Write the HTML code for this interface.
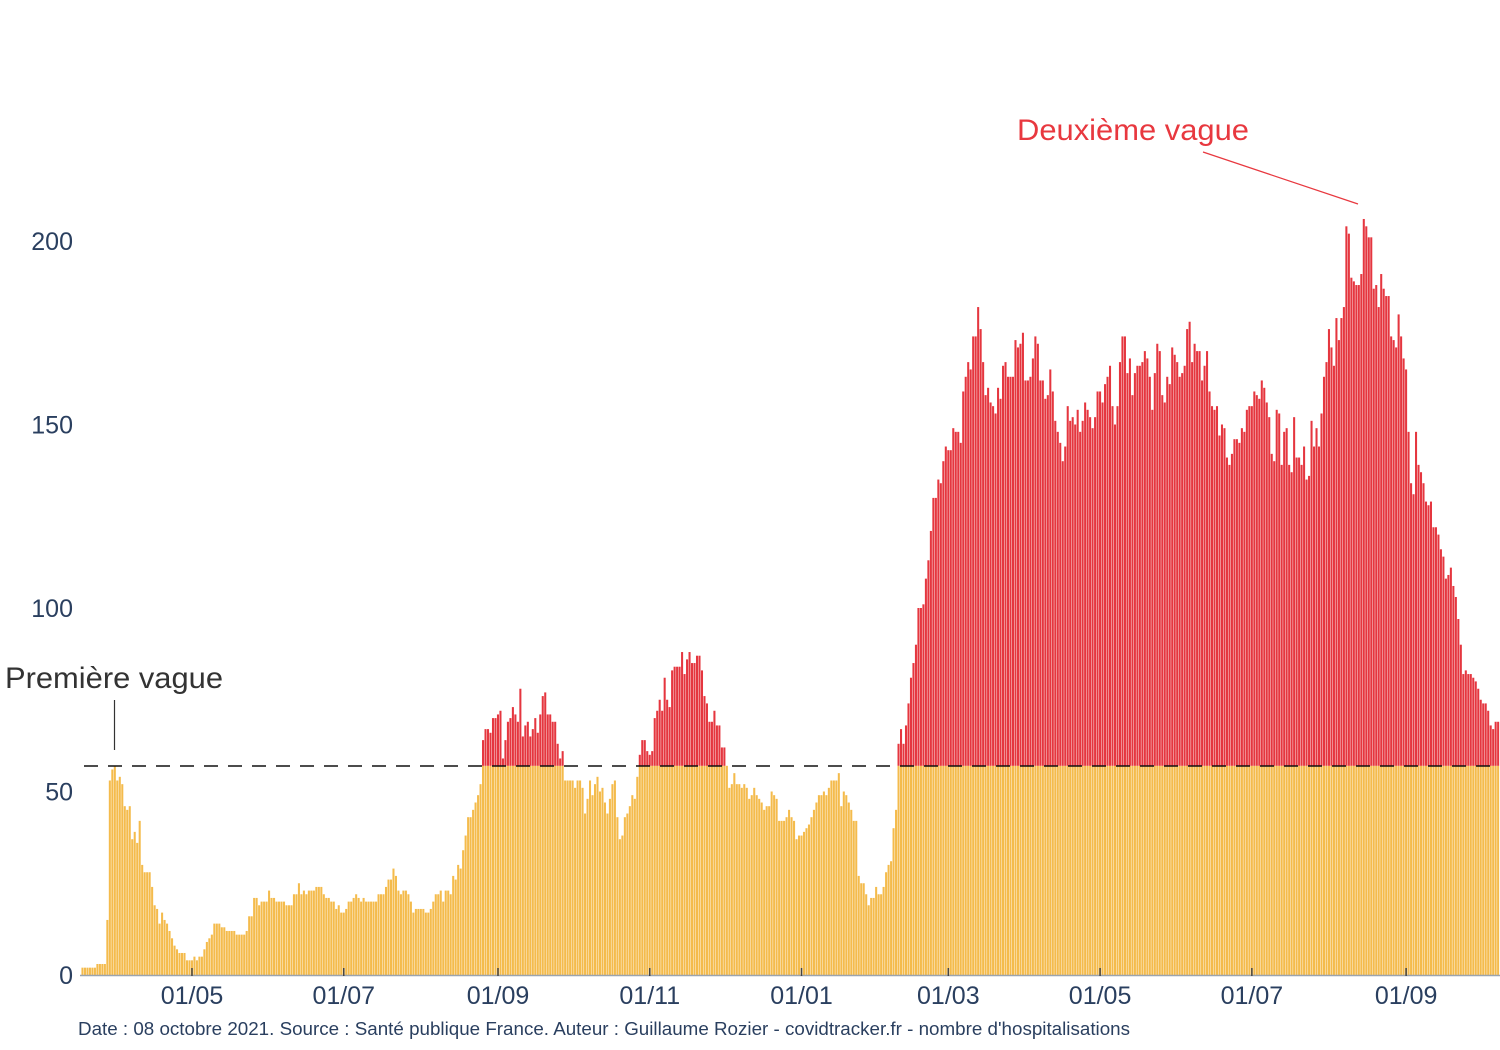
<!DOCTYPE html>
<html><head><meta charset="utf-8"><style>
html,body{margin:0;padding:0;background:#fff;}
svg{display:block;font-family:"Liberation Sans",sans-serif;}
</style></head><body>
<svg id="chart" width="1500" height="1050" viewBox="0 0 1500 1050">
<g id="bars"></g>
<line x1="80" y1="975.5" x2="1500" y2="975.5" stroke="#9aa4b0" stroke-width="1.5"/>
<line x1="84" y1="766" x2="1500" y2="766" stroke="#111" stroke-width="1.6" stroke-dasharray="14,10"/>
<g id="yaxis"></g>
<g id="xaxis"></g>
<text x="5" y="688" font-size="30" fill="#333" textLength="218" lengthAdjust="spacingAndGlyphs">Première vague</text>
<line x1="114.5" y1="700" x2="114.5" y2="750" stroke="#333" stroke-width="1.2"/>
<text x="1017" y="140" font-size="30" fill="#e8383f" textLength="232" lengthAdjust="spacingAndGlyphs">Deuxième vague</text>
<line x1="1203" y1="152" x2="1358" y2="204" stroke="#e8383f" stroke-width="1.2"/>
<text x="78" y="1035" font-size="18" fill="#2a3f5f" textLength="1052" lengthAdjust="spacingAndGlyphs">Date : 08 octobre 2021. Source : Santé publique France. Auteur : Guillaume Rozier - covidtracker.fr - nombre d'hospitalisations</text>
</svg>
<script>
const values = [2,2,2,2,2,2,3,3,3,3,
15,53,56,57,53,54,52,46,45,46,37,39,36,42,30,28,28,28,24,19,18,14,17,15,14,12,10,8,7,6,6,6,4,4,4,5,4,5,5,7,9,10,11,14,14,14,13,13,12,12,12,12,11,11,11,11,12,16,16,21,21,19,20,20,20,23,21,21,20,20,20,20,19,19,19,22,22,25,22,23,22,23,23,23,24,
24,24,22,21,21,20,20,18,19,17,17,18,20,20,21,22,21,20,21,20,20,20,20,20,22,22,22,24,26,26,29,27,23,22,23,23,22,20,17,18,18,18,18,17,17,18,20,22,22,23,20,23,23,22,27,26,30,29,34,38,43,43,45,47,49,52,
64,67,67,66,70,70,71,72,59,64,69,70,73,71,69,78,65,68,69,65,67,70,66,71,76,77,
71,71,69,69,63,59,61,53,53,53,53,51,53,53,51,44,48,53,49,52,54,50,51,47,44,48,52,53,43,37,38,43,44,46,49,48,54,60,64,64,61,60,61,70,72,75,72,81,75,73,83,84,84,84,88,82,86,88,85,85,87,87,83,76,74,69,69,72,68,68,62,62,57,51,52,55,52,52,51,52,51,48,49,51,49,48,47,45,46,
46,50,49,48,42,42,42,43,45,43,42,37,38,38,39,40,41,43,45,47,49,49,50,49,51,53,53,53,55,46,50,49,47,45,42,42,27,25,25,22,19,21,21,24,22,22,24,28,30,31,40,45,
63,67,63,68,74,81,85,90,100,100,101,108,113,121,130,130,135,134,140,144,143,143,149,148,148,145,159,163,167,165,174,174,182,176,167,158,160,156,155,153,160,157,166,167,163,163,163,173,171,172,175,162,162,163,168,174,172,162,162,157,158,165,159,151,148,145,140,144,155,151,152,150,154,148,151,156,154,152,149,152,159,
159,156,161,163,166,155,150,155,167,174,174,164,168,158,164,166,166,167,170,168,163,154,164,172,170,158,156,163,161,171,169,167,163,164,166,176,178,167,172,170,170,162,166,170,159,155,154,155,147,150,149,141,139,142,146,146,145,149,148,154,155,155,159,158,157,162,160,156,152,142,140,154,153,139,148,149,139,137,
152,141,141,139,144,135,136,151,144,149,144,153,163,167,176,171,166,179,173,179,182,204,202,190,189,188,188,191,206,204,201,201,187,188,182,191,187,185,185,174,173,171,180,174,168,165,148,134,131,148,139,137,134,129,128,129,122,122,120,116,114,108,109,111,106,103,97,90,82,83,82,82,81,80,78,75,74,74,72,68,67,69,
69];
const threshold = 57;
const yTicks = [0,50,100,150,200];
const xTickLabels = ["01/05","01/07","01/09","01/11","01/01","01/03","01/05","01/07","01/09"];
const xTickDays = [44,105,167,228,289,348,409,470,532];

const NS="http://www.w3.org/2000/svg";
const y0=975, pxPerUnit=3.67, x0=82.5, step=2.488;
function yScale(v){return y0 - v*pxPerUnit;}
function xScale(i){return x0 + step*i;}
const bars=document.getElementById('bars');
values.forEach((v,i)=>{
  const xl=xScale(i)-1.05, w=2.05;
  const low=Math.min(v,threshold);
  const r=document.createElementNS(NS,'rect');
  
  
  r.setAttribute('x',xl);r.setAttribute('width',w);
  r.setAttribute('y',yScale(low));r.setAttribute('height',y0-yScale(low));
  r.setAttribute('fill','#f4bb4c');
  bars.appendChild(r);
  if(v>threshold){
    const t=document.createElementNS(NS,'rect');
    
    
    t.setAttribute('x',xl);t.setAttribute('width',w);
    t.setAttribute('y',yScale(v));t.setAttribute('height',yScale(threshold)-yScale(v));
    t.setAttribute('fill','#e5363f');
    bars.appendChild(t);
  }
});
const ya=document.getElementById('yaxis');
yTicks.forEach(t=>{
  const tx=document.createElementNS(NS,'text');
  
  
  tx.setAttribute('x',73);tx.setAttribute('y',yScale(t)+9);
  tx.setAttribute('text-anchor','end');tx.setAttribute('font-size','25');
  tx.setAttribute('fill','#2a3f5f');tx.textContent=t;
  ya.appendChild(tx);
});
const xa=document.getElementById('xaxis');
xTickDays.forEach((d,k)=>{
  const x=xScale(d);
  const tk=document.createElementNS(NS,'line');
  
  
  tk.setAttribute('x1',x);tk.setAttribute('x2',x);tk.setAttribute('y1',968);tk.setAttribute('y2',976);
  tk.setAttribute('stroke','#444');tk.setAttribute('stroke-width','1.5');
  xa.appendChild(tk);
  const tx=document.createElementNS(NS,'text');
  
  
  tx.setAttribute('x',x);tx.setAttribute('y',1004);
  tx.setAttribute('text-anchor','middle');tx.setAttribute('font-size','25');
  tx.setAttribute('fill','#2a3f5f');tx.textContent=xTickLabels[k];
  xa.appendChild(tx);
});
</script>
</body></html>
